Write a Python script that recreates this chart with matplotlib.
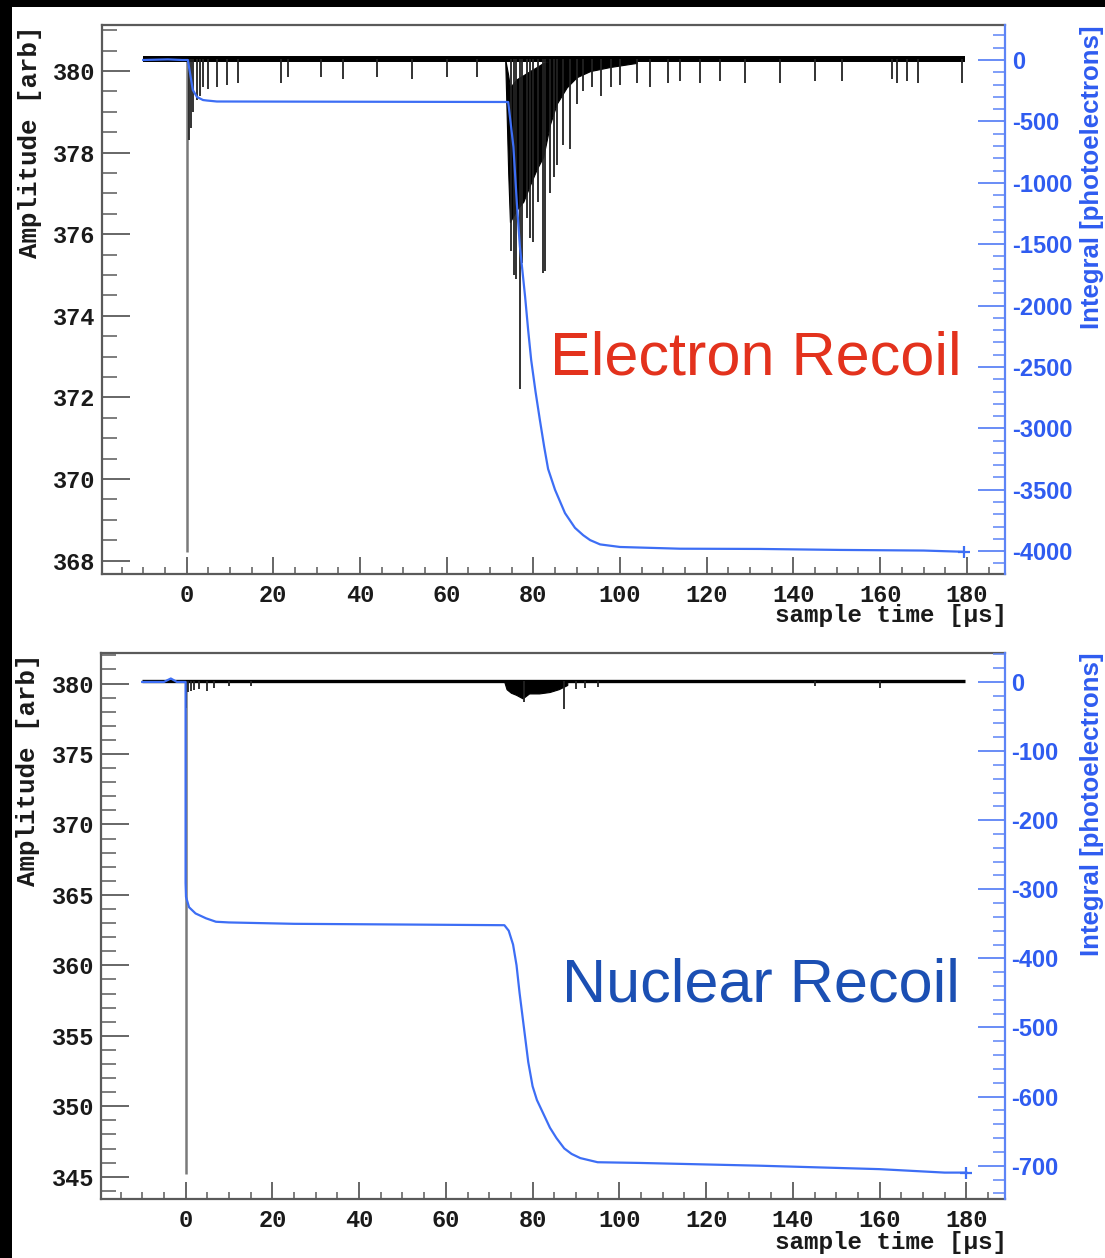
import matplotlib
matplotlib.use("Agg")
import matplotlib.pyplot as plt
from matplotlib.patches import Rectangle
from matplotlib.ticker import MultipleLocator

W, H, DPI = 1105, 1258, 100

# ---------------- Electron recoil event ----------------
er_base_t = [-10.0, 179.6]
er_base_amp = [380.3, 380.3]

er_prompt_t = [0.0]
er_prompt_min = [368.2]

# dense pulse train envelope (us, arb)
er_s2_t = [73.5, 74.2, 74.6, 76.15, 77.7, 79.2, 80.8, 82.3, 83.85, 85.4, 87.7, 90.0, 93.1, 97.7, 103.8]
er_s2_low = [380.3, 377.5, 376.3, 376.6, 376.8, 377.2, 377.6, 377.9, 378.7, 379.2, 379.6, 379.85, 380.0, 380.1, 380.2]
er_s2_high = [380.3, 379.9, 379.6, 379.8, 379.9, 380.0, 380.1, 380.2, 380.25, 380.3, 380.3, 380.3, 380.3, 380.3, 380.3]

# single negative excursions (us, minimum amplitude)
er_spike_t = [0.5, 1.0, 1.6, 2.3, 3.0, 3.8, 5.0, 7.0, 9.3, 11.8, 21.9, 23.5, 31.0, 36.0, 44.0, 52.0, 60.0, 67.0,
              74.8, 75.5, 76.0, 76.9, 77.3, 78.5, 79.3, 80.0, 81.0, 82.3, 82.8, 83.8, 84.7, 85.4, 86.8, 88.5,
              90.0, 91.5, 93.5, 95.5, 98.0, 100.0, 104.0, 107.0, 111.0, 113.8, 118.5, 123.1, 128.8, 136.9,
              145.0, 151.2, 162.8, 163.9, 166.2, 168.8, 178.8]
er_spike_min = [378.3, 378.6, 379.0, 379.3, 379.4, 379.6, 379.55, 379.6, 379.65, 379.7, 379.7, 379.85, 379.85, 379.8, 379.85, 379.8, 379.85, 379.85,
                375.6, 375.0, 374.9, 372.2, 375.3, 376.4, 375.9, 375.8, 376.8, 375.05, 375.1, 377.0, 377.4, 377.7, 378.2, 378.1,
                379.2, 379.5, 379.6, 379.4, 379.6, 379.65, 379.7, 379.6, 379.7, 379.75, 379.7, 379.75, 379.7, 379.7,
                379.75, 379.75, 379.8, 379.7, 379.75, 379.7, 379.7]

# running integral (us, photoelectrons)
er_int_t = [-10, -4.3, -1, 0.3, 1.45, 2.4, 3.8, 4.7, 7.0, 40, 74.2, 75.4, 76.2, 76.9, 78.1, 78.8, 79.5, 80.5,
            81.5, 82.5, 83.4, 85.0, 87.3, 89.6, 91.5, 93.1, 95.4, 100, 113.8, 132.3, 150.8, 170, 179.3]
er_int_pe = [0, 5, 0, 0, -244, -301, -326, -330, -338, -340, -342, -706, -1167, -1520, -1928, -2198, -2443, -2700,
             -2930, -3150, -3330, -3500, -3690, -3810, -3870, -3910, -3945, -3966, -3980, -3982, -3990, -3995, -4005]

# ---------------- Nuclear recoil event ----------------
nr_base_t = [-10.0, 179.6]
nr_base_amp = [380.15, 380.15]

nr_prompt_t = [0.0]
nr_prompt_min = [345.2]

nr_s2_t = [73.5, 74.0, 75.0, 76.2, 77.7, 79.2, 81.5, 83.9, 86.0, 88.0]
nr_s2_low = [380.1, 379.6, 379.35, 379.2, 378.95, 379.3, 379.3, 379.4, 379.6, 379.9]
nr_s2_high = [380.15, 380.15, 380.15, 380.15, 380.15, 380.15, 380.15, 380.15, 380.15, 380.15]

nr_spike_t = [0.1, 0.5, 1.2, 2.0, 3.0, 5.0, 6.5, 10.0, 15.0, 78.1, 87.3, 90.0, 92.0, 95.0, 145.0, 160.0]
nr_spike_min = [378.3, 379.4, 379.5, 379.55, 379.6, 379.5, 379.7, 379.85, 379.85, 378.7, 378.2, 379.6, 379.7, 379.75, 379.85, 379.7]

nr_int_t = [-10, -5, -3.4, -2, 0, 0, 0.1, 0.8, 2.3, 4.7, 7, 10, 25, 50, 73.5, 74.5, 75.5, 76.3, 77.0, 78.0,
            79.0, 80.0, 81.0, 82.5, 84.0, 85.5, 87.3, 89.0, 91.0, 95.0, 104.6, 118.5, 132.3, 160, 175, 180]
nr_int_pe = [0, 0, 5, 0, 0, -291, -311, -326, -335, -342, -347, -348, -350, -351, -352, -360, -380, -410, -450, -500,
             -550, -585, -605, -625, -645, -660, -675, -683, -689, -695, -696, -698, -700, -705, -710, -710]

# ---------------- styling ----------------
plt.rcParams["axes.unicode_minus"] = False
MONO = "Liberation Mono"
SANS = "Liberation Sans"
FRAME = "#5a5a5a"
BLUE_LINE = "#3d6ef5"
BLUE_AX = "#5d84f6"
BLUE_TXT = "#2f5cf0"

fig = plt.figure(figsize=(W / DPI, H / DPI), dpi=DPI)
fig.patch.set_facecolor("black")
fig.add_artist(Rectangle((12 / W, 0), 1 - 12 / W, 1 - 7 / H, transform=fig.transFigure,
                         facecolor="white", edgecolor="none", zorder=-10))


def px_box(x0, y0, x1, y1):
    return [x0 / W, 1 - y1 / H, (x1 - x0) / W, (y1 - y0) / H]


def draw_panel(rect, ylim, ymaj, ymin, y2lim, y2maj, y2min,
               base_t, base_amp, base_lw, prompt_t, prompt_min,
               s2_t, s2_low, s2_high, spike_t, spike_min, int_t, int_pe):
    ax = fig.add_axes(rect)
    ax.set_facecolor("none")
    ax.set_xlim(-19.5, 188.8)
    ax.set_ylim(*ylim)

    base = base_amp[0]
    ax.plot(base_t, base_amp, color="black", lw=base_lw, solid_capstyle="butt", zorder=3)
    ax.fill_between(s2_t, s2_low, s2_high, color="black", lw=0.8, zorder=3)
    ax.vlines(spike_t, spike_min, base, color="#222222", lw=1.3, zorder=3)
    ax.vlines(prompt_t, prompt_min, base, color="#7a7a7a", lw=1.8, zorder=2)

    ax.xaxis.set_major_locator(MultipleLocator(20))
    ax.xaxis.set_minor_locator(MultipleLocator(5))
    ax.yaxis.set_major_locator(MultipleLocator(ymaj))
    ax.yaxis.set_minor_locator(MultipleLocator(ymin))
    ax.tick_params(axis="x", which="major", direction="in", length=12, width=1.3, color=FRAME,
                   pad=7, labelsize=17, labelcolor="#1a1a1a", top=False)
    ax.tick_params(axis="x", which="minor", direction="in", length=5, width=1.1, color=FRAME, top=False)
    ax.tick_params(axis="y", which="major", direction="in", length=20, width=1.3, color=FRAME,
                   pad=5, labelsize=17, labelcolor="#1a1a1a", right=False)
    ax.tick_params(axis="y", which="minor", direction="in", length=10.5, width=1.1, color=FRAME, right=False)
    for lbl in ax.get_xticklabels() + ax.get_yticklabels():
        lbl.set_family(MONO)
        lbl.set_weight("bold")
    for side in ("left", "top", "bottom"):
        ax.spines[side].set_color(FRAME)
        ax.spines[side].set_linewidth(1.6)
    ax.spines["right"].set_visible(False)

    ax2 = ax.twinx()
    ax2.set_ylim(*y2lim)
    ax2.plot(int_t, int_pe, color=BLUE_LINE, lw=1.6, zorder=4)
    ax2.plot([int_t[-1]], [int_pe[-1]], marker="+", ms=9, mew=1.6, color=BLUE_LINE)
    ax2.yaxis.set_major_locator(MultipleLocator(y2maj))
    ax2.yaxis.set_minor_locator(MultipleLocator(y2min))
    ax2.tick_params(axis="y", which="major", direction="in", length=19.5, width=1.3, color=BLUE_AX,
                    pad=5, labelsize=17, labelcolor=BLUE_TXT)
    ax2.tick_params(axis="y", which="minor", direction="in", length=8.6, width=1.1, color=BLUE_AX)
    for lbl in ax2.get_yticklabels():
        lbl.set_family(SANS)
        lbl.set_weight("bold")
    for side in ("left", "top", "bottom"):
        ax2.spines[side].set_visible(False)
    ax2.spines["right"].set_color(BLUE_AX)
    ax2.spines["right"].set_linewidth(1.6)
    return ax, ax2


draw_panel(px_box(102, 25, 1005, 574), (367.67, 381.13), 2, 0.5, (-4186, 285), 500, 100,
           er_base_t, er_base_amp, 4.3, er_prompt_t, er_prompt_min,
           er_s2_t, er_s2_low, er_s2_high, er_spike_t, er_spike_min, er_int_t, er_int_pe)

draw_panel(px_box(101, 653, 1004.5, 1199), (343.42, 382.17), 5, 1, (-748.2, 41.9), 100, 20,
           nr_base_t, nr_base_amp, 2.4, nr_prompt_t, nr_prompt_min,
           nr_s2_t, nr_s2_low, nr_s2_high, nr_spike_t, nr_spike_min, nr_int_t, nr_int_pe)

# axis titles
for ytop, xc in ((25, 30), (653, 28)):
    fig.text(xc / W, 1 - ytop / H, "Amplitude [arb]", rotation=90, ha="center", va="top",
             family=MONO, weight="bold", fontsize=18.5, color="#1a1a1a")
for ytop in (25, 652):
    fig.text(1092 / W, 1 - ytop / H, "Integral [photoelectrons]", rotation=90, ha="center", va="top",
             family=SANS, weight="bold", fontsize=18.5, color=BLUE_TXT)
for yc in (616, 1243):
    fig.text(1007 / W, 1 - yc / H, "sample time [\u03bcs]", ha="right", va="center",
             family=MONO, weight="bold", fontsize=17.5, color="#1a1a1a")

# event labels
fig.text(962 / W, 1 - 374 / H, "Electron Recoil", ha="right", va="baseline",
         family=SANS, fontsize=44, color="#e3321d")
fig.text(960 / W, 1 - 1002 / H, "Nuclear Recoil", ha="right", va="baseline",
         family=SANS, fontsize=44, color="#1b4fb3")

fig.savefig("out.png", dpi=DPI, facecolor=fig.get_facecolor())
